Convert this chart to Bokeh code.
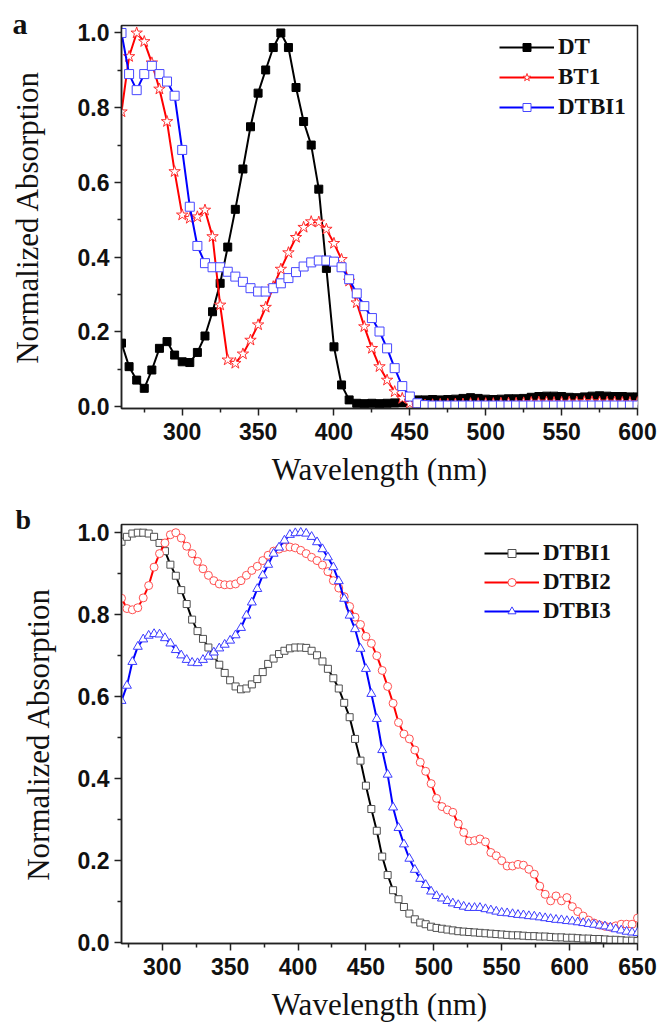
from bokeh.plotting import figure
from bokeh.layouts import column
from bokeh.models import (FixedTicker, PrintfTickFormatter, Legend, LegendItem,
                          Label, Range1d)
from bokeh.embed import file_html
from bokeh.resources import INLINE

# ---------------- Panel a data (wavelength step 5 nm) ----------------
wl_a = list(range(260, 601, 5))
dt = [0.170, 0.107, 0.071, 0.049, 0.098, 0.156, 0.174, 0.138, 0.120, 0.118,
      0.145, 0.189, 0.254, 0.330, 0.427, 0.528, 0.636, 0.749, 0.839, 0.901,
      0.961, 1.000, 0.961, 0.854, 0.763, 0.700, 0.582, 0.370, 0.160, 0.058,
      0.018, 0.009, 0.008, 0.009, 0.008, 0.009, 0.010, 0.011, 0.014, 0.018,
      0.018, 0.019, 0.018, 0.019, 0.020, 0.022, 0.024, 0.022, 0.020, 0.019,
      0.020, 0.021, 0.021, 0.022, 0.025, 0.027, 0.028, 0.028, 0.027, 0.025,
      0.024, 0.026, 0.028, 0.029, 0.028, 0.027, 0.027, 0.026, 0.026]
bt1 = [0.789, 0.937, 1.000, 0.977, 0.920, 0.850, 0.763, 0.629, 0.513, 0.504,
       0.508, 0.526, 0.455, 0.272, 0.125, 0.116, 0.141, 0.178, 0.219, 0.266,
       0.321, 0.368, 0.412, 0.453, 0.480, 0.495, 0.494, 0.475, 0.437, 0.394,
       0.336, 0.278, 0.214, 0.156, 0.107, 0.071, 0.040, 0.022, 0.009, 0.005,
       0.004, 0.005, 0.006, 0.006, 0.007, 0.007, 0.008, 0.008, 0.008, 0.008,
       0.009, 0.009, 0.009, 0.010, 0.011, 0.012, 0.012, 0.011, 0.011, 0.012,
       0.012, 0.013, 0.013, 0.012, 0.012, 0.012, 0.011, 0.011, 0.011]
dtbi1_a = [1.000, 0.890, 0.847, 0.890, 0.912, 0.890, 0.870, 0.832, 0.687, 0.535,
           0.430, 0.384, 0.373, 0.373, 0.361, 0.348, 0.334, 0.317, 0.308, 0.308,
           0.317, 0.330, 0.344, 0.360, 0.375, 0.386, 0.391, 0.391, 0.388, 0.373,
           0.341, 0.303, 0.269, 0.237, 0.201, 0.156, 0.103, 0.055, 0.027, 0.009,
           0.004, 0.003, 0.003, 0.003, 0.003, 0.003, 0.003, 0.003, 0.003, 0.003,
           0.003, 0.003, 0.003, 0.003, 0.003, 0.003, 0.003, 0.003, 0.003, 0.003,
           0.003, 0.003, 0.003, 0.003, 0.003, 0.003, 0.003, 0.003, 0.003]
labels_a = ["DT", "BT1", "DTBI1"]

# ---------------- Panel b data (wavelength step 4 nm) ----------------
wl_b = list(range(270, 651, 4))
dtbi1_b = [0.978, 0.990, 0.998, 1.000, 1.000, 0.998, 0.990, 0.975, 0.955, 0.922,
           0.895, 0.860, 0.826, 0.788, 0.760, 0.741, 0.720, 0.700, 0.678, 0.658,
           0.640, 0.625, 0.618, 0.620, 0.630, 0.643, 0.660, 0.680, 0.693, 0.704,
           0.712, 0.718, 0.720, 0.720, 0.719, 0.712, 0.701, 0.686, 0.668, 0.645,
           0.620, 0.585, 0.550, 0.497, 0.444, 0.383, 0.326, 0.273, 0.210, 0.165,
           0.128, 0.106, 0.087, 0.071, 0.057, 0.049, 0.045, 0.039, 0.036, 0.034,
           0.032, 0.030, 0.028, 0.027, 0.026, 0.025, 0.024, 0.023, 0.022, 0.021,
           0.020, 0.019, 0.018, 0.018, 0.017, 0.016, 0.016, 0.015, 0.015, 0.014,
           0.013, 0.013, 0.012, 0.012, 0.011, 0.010, 0.010, 0.009, 0.009, 0.008,
           0.007, 0.007, 0.006, 0.005, 0.005, 0.004]
dtbi2_b = [0.840, 0.815, 0.812, 0.817, 0.841, 0.871, 0.916, 0.949, 0.975, 0.995,
           1.000, 0.987, 0.967, 0.949, 0.930, 0.912, 0.896, 0.883, 0.875, 0.873,
           0.873, 0.875, 0.883, 0.896, 0.908, 0.918, 0.932, 0.945, 0.955, 0.960,
           0.964, 0.965, 0.963, 0.957, 0.949, 0.940, 0.932, 0.921, 0.905, 0.883,
           0.865, 0.844, 0.820, 0.794, 0.776, 0.747, 0.730, 0.700, 0.664, 0.625,
           0.584, 0.537, 0.509, 0.497, 0.470, 0.440, 0.418, 0.388, 0.352, 0.332,
           0.324, 0.318, 0.290, 0.269, 0.248, 0.249, 0.253, 0.246, 0.220, 0.212,
           0.200, 0.187, 0.187, 0.191, 0.189, 0.179, 0.167, 0.138, 0.118, 0.102,
           0.114, 0.102, 0.110, 0.088, 0.076, 0.065, 0.055, 0.048, 0.043, 0.040,
           0.038, 0.041, 0.045, 0.045, 0.045, 0.060]
dtbi3_b = [0.590, 0.627, 0.685, 0.722, 0.740, 0.749, 0.753, 0.752, 0.743, 0.730,
           0.714, 0.701, 0.690, 0.683, 0.682, 0.690, 0.698, 0.708, 0.718, 0.727,
           0.737, 0.750, 0.768, 0.798, 0.830, 0.863, 0.896, 0.922, 0.949, 0.964,
           0.981, 0.995, 0.999, 1.000, 0.998, 0.990, 0.977, 0.960, 0.940, 0.916,
           0.882, 0.839, 0.798, 0.765, 0.717, 0.668, 0.607, 0.546, 0.470, 0.410,
           0.330, 0.280, 0.240, 0.205, 0.178, 0.156, 0.141, 0.125, 0.114, 0.108,
           0.102, 0.096, 0.092, 0.088, 0.085, 0.085, 0.085, 0.082, 0.079, 0.076,
           0.073, 0.072, 0.070, 0.068, 0.067, 0.065, 0.064, 0.062, 0.060, 0.058,
           0.056, 0.055, 0.053, 0.052, 0.050, 0.048, 0.046, 0.044, 0.042, 0.040,
           0.037, 0.033, 0.030, 0.027, 0.025, 0.024]
labels_b = ["DTBI1", "DTBI2", "DTBI3"]

x_ticks_a = [300, 350, 400, 450, 500, 550, 600]
x_minor_a = [275, 325, 375, 425, 475, 525, 575]
x_ticks_b = [300, 350, 400, 450, 500, 550, 600, 650]
x_minor_b = [275, 325, 375, 425, 475, 525, 575, 625]
y_ticks = [0.0, 0.2, 0.4, 0.6, 0.8, 1.0]
y_minor = [0.1, 0.3, 0.5, 0.7, 0.9]

for arr in (dt, bt1, dtbi1_a):
    assert len(arr) == len(wl_a)
for arr in (dtbi1_b, dtbi2_b, dtbi3_b):
    assert len(arr) == len(wl_b)

SANS = "Liberation Sans"
SERIF = "Liberation Serif"


def make_fig(h, borders, xr, yr, xt, xm, ylab_standoff):
    left, right, top, bottom = borders
    p = figure(width=661, height=h, output_backend="svg", toolbar_location=None,
               x_range=Range1d(*xr), y_range=Range1d(*yr),
               min_border_left=left, min_border_right=right,
               min_border_top=top, min_border_bottom=bottom)
    p.grid.visible = False
    p.outline_line_color = "#222222"
    p.outline_line_width = 1.5
    p.outline_line_alpha = 1.0
    p.background_fill_color = "white"
    p.border_fill_color = "white"
    p.xaxis.ticker = FixedTicker(ticks=xt, minor_ticks=xm)
    p.yaxis.ticker = FixedTicker(ticks=y_ticks, minor_ticks=y_minor)
    p.yaxis.formatter = PrintfTickFormatter(format="%.1f")
    p.xaxis.axis_label = "Wavelength (nm)"
    p.yaxis.axis_label = "Normalized Absorption"
    for ax in (p.xaxis[0], p.yaxis[0]):
        ax.major_label_text_font = SANS
        ax.major_label_text_font_style = "bold"
        ax.major_label_text_font_size = "23px"
        ax.major_label_text_color = "#111111"
        ax.axis_label_text_font = SERIF
        ax.axis_label_text_font_style = "normal"
        ax.axis_label_text_font_size = "31px"
        ax.axis_label_text_color = "#111111"
        ax.major_tick_in = 0
        ax.major_tick_out = 7
        ax.minor_tick_in = 0
        ax.minor_tick_out = 4
        ax.axis_line_width = 1.5
        ax.major_tick_line_width = 1.5
        ax.minor_tick_line_width = 1.5
        ax.axis_line_color = "#222222"
        ax.major_tick_line_color = "#222222"
        ax.minor_tick_line_color = "#222222"
    p.yaxis.major_label_standoff = 5
    p.xaxis.major_label_standoff = 7
    p.yaxis.axis_label_standoff = ylab_standoff
    p.xaxis.axis_label_standoff = 9
    return p


def add_series(p, x, y, color, marker, size, mline, mfill):
    l = p.line(x, y, line_color=color, line_width=2)
    s = p.scatter(x, y, marker=marker, size=size, line_color=mline,
                  fill_color=mfill, line_width=1)
    return [l, s]


def add_legend(p, labels, rends, loc, spacing):
    items = [LegendItem(label=lab, renderers=r) for lab, r in zip(labels, rends)]
    leg = Legend(items=items, location=loc,
                 label_text_font=SERIF, label_text_font_style="bold",
                 label_text_font_size="23px", label_text_color="#111111",
                 glyph_width=55, glyph_height=20, label_height=26,
                 label_standoff=4, spacing=spacing, padding=0, margin=0,
                 border_line_alpha=0, background_fill_alpha=0)
    p.add_layout(leg)


def add_letter(p, text, x, y, size):
    # placed in the right side panel so it is not clipped to the frame
    p.add_layout(Label(x=x, y=y, x_units="screen", y_units="screen", text=text,
                       text_font=SERIF, text_font_style="bold",
                       text_baseline="alphabetic", text_align="left",
                       text_font_size=size, text_color="#111111"), "right")


# ---------------- Panel a ----------------
pa = make_fig(500, (116, 23, 25, 92), (260, 600), (-0.005, 1.02),
              x_ticks_a, x_minor_a, 30)
ra = [
    add_series(pa, wl_a, dt, "#000000", "square", 8, "#000000", "#000000"),
    add_series(pa, wl_a, bt1, "#ff0000", "star", 12, "#ff3030", "white"),
    add_series(pa, wl_a, dtbi1_a, "#0000ff", "square", 9, "#4848ff", "white"),
]
add_legend(pa, labels_a, ra, (378, 288), 4)
add_letter(pa, "a", -625, 385, "30px")

# ---------------- Panel b ----------------
pb = make_fig(531, (121, 24, 24, 88), (270, 650), (-0.002, 1.02),
              x_ticks_b, x_minor_b, 19)
rb = [
    add_series(pb, wl_b, dtbi1_b, "#000000", "square", 7, "#505050", "white"),
    add_series(pb, wl_b, dtbi2_b, "#ff0000", "circle", 8, "#ff5050", "white"),
    add_series(pb, wl_b, dtbi3_b, "#0000ff", "triangle", 9, "#3c3cff", "white"),
]
add_legend(pb, labels_b, rb, (363, 319), 3)
add_letter(pb, "b", -622, 424, "28px")

layout = column(pa, pb, spacing=0)
open("out.html", "w").write(file_html(layout, INLINE))
